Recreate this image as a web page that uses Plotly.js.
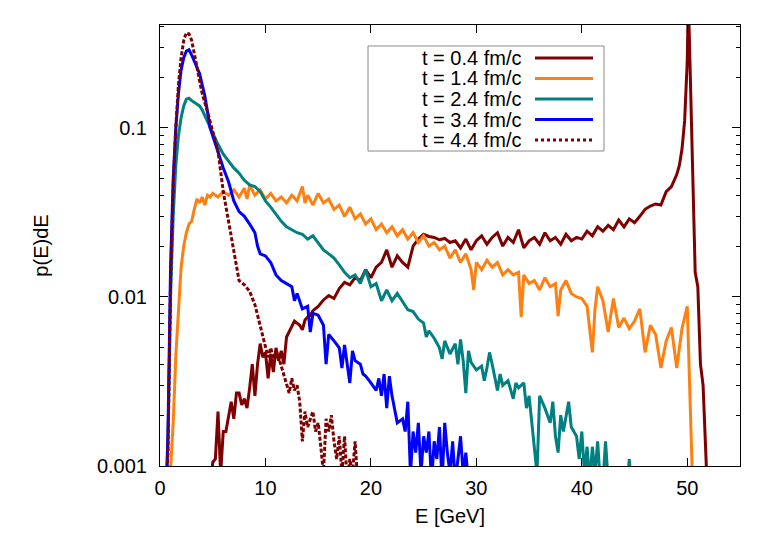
<!DOCTYPE html>
<html>
<head>
<meta charset="utf-8">
<script src="https://cdn.plot.ly/plotly-3.0.1.min.js"></script>
<style>html,body{margin:0;padding:0;background:#fff;}#chart{width:763px;height:534px;}</style>
</head>
<body>
<div id="chart"></div>
<script>
// ---- data ----
const seriesNames = ["t = 0.4 fm/c", "t = 1.4 fm/c", "t = 2.4 fm/c", "t = 3.4 fm/c", "t = 4.4 fm/c"];

const E_t04 = [4.75,5.0,5.25,5.5,5.75,6.0,6.25,6.5,6.75,7.0,7.25,7.5,7.75,8.0,8.25,8.5,8.75,9.0,9.25,9.5,9.75,10.0,10.25,10.5,10.75,11.0,11.25,11.5,11.75,12.0,12.25,12.5,12.75,13.0,13.25,13.5,13.75,14.0,14.25,14.5,15.0,15.5,16.0,16.5,17.0,17.5,18.0,18.5,19.0,19.5,20.0,20.5,21.0,21.5,22.0,22.5,23.0,23.5,24.0,24.5,25.0,25.5,26.0,26.5,27.0,27.5,28.0,28.5,29.0,29.5,30.0,30.5,31.0,31.5,32.0,32.5,33.0,33.5,34.0,34.5,35.0,35.5,36.0,36.5,37.0,37.5,38.0,38.5,39.0,39.5,40.0,40.5,41.0,41.5,42.0,42.5,43.0,43.5,44.0,44.5,45.0,45.5,46.0,46.5,47.0,47.5,48.0,48.5,49.0,49.25,49.5,49.75,50.0,50.1,50.25,50.5,50.75,51.0,51.25,51.5,51.75,52.0];
const P_t04 = [0.0007,0.00105,0.0011,0.0021,0.0009,0.0016,0.0016,0.0020,0.0024,0.0019,0.0027,0.0027,0.0023,0.0025,0.0022,0.0029,0.0040,0.0026,0.0040,0.0053,0.0044,0.0047,0.0033,0.0046,0.0036,0.0050,0.0042,0.0048,0.0040,0.0058,0.0062,0.0066,0.0072,0.0070,0.0068,0.0064,0.0073,0.0076,0.0078,0.0083,0.0088,0.0096,0.0102,0.0098,0.0112,0.0122,0.0118,0.0130,0.0125,0.0145,0.0130,0.0150,0.0160,0.0190,0.0150,0.0175,0.0160,0.0150,0.0200,0.0220,0.0235,0.0228,0.0225,0.0218,0.0222,0.0210,0.0215,0.0195,0.0220,0.0190,0.0215,0.0230,0.0205,0.0225,0.0240,0.0200,0.0225,0.0210,0.0250,0.0195,0.0215,0.0225,0.0205,0.0240,0.0215,0.0225,0.0205,0.0235,0.0215,0.0225,0.0220,0.0245,0.0230,0.0260,0.0245,0.0265,0.0250,0.0285,0.0260,0.0290,0.0275,0.0300,0.0330,0.0345,0.0355,0.0350,0.0420,0.0450,0.0530,0.060,0.075,0.11,0.25,0.60,0.25,0.050,0.0140,0.0115,0.0040,0.0030,0.0011,0.0005];

const E_t14 = [0.75,1.0,1.25,1.5,1.75,2.0,2.25,2.5,2.75,3.0,3.25,3.5,3.75,4.0,4.25,4.5,4.75,5.0,5.5,6.0,6.5,7.0,7.5,8.0,8.25,8.5,9.0,9.5,10.0,10.5,11.0,11.5,12.0,12.5,13.0,13.5,13.75,14.0,14.5,15.0,15.5,16.0,16.5,17.0,17.5,18.0,18.5,19.0,19.5,20.0,20.5,21.0,21.5,22.0,22.5,23.0,23.5,24.0,24.5,25.0,25.5,26.0,26.5,27.0,27.5,28.0,28.5,29.0,29.5,29.75,30.0,30.5,31.0,31.5,32.0,32.5,33.0,33.5,34.0,34.25,34.5,35.0,35.5,36.0,36.5,37.0,37.5,37.75,38.0,38.5,39.0,39.5,40.0,40.5,41.0,41.25,41.5,42.0,42.5,43.0,43.5,44.0,44.5,45.0,45.5,46.0,46.5,47.0,47.5,48.0,48.5,49.0,49.5,50.0,50.5];
const P_t14 = [0.0005,0.0009,0.0018,0.0045,0.009,0.015,0.020,0.024,0.027,0.028,0.033,0.038,0.036,0.039,0.035,0.040,0.039,0.041,0.039,0.042,0.040,0.043,0.039,0.044,0.038,0.046,0.040,0.043,0.038,0.041,0.037,0.039,0.036,0.040,0.037,0.045,0.036,0.040,0.035,0.041,0.036,0.038,0.033,0.035,0.030,0.034,0.029,0.031,0.027,0.029,0.025,0.027,0.024,0.026,0.023,0.025,0.022,0.024,0.021,0.023,0.020,0.021,0.019,0.020,0.017,0.019,0.016,0.018,0.0145,0.011,0.016,0.0145,0.0165,0.015,0.016,0.0135,0.0145,0.0135,0.014,0.0076,0.0135,0.012,0.0125,0.011,0.013,0.0115,0.012,0.0077,0.011,0.0125,0.0105,0.010,0.0098,0.0088,0.0047,0.0085,0.0115,0.0095,0.0062,0.0098,0.0066,0.0075,0.0065,0.0072,0.0085,0.0047,0.0068,0.0060,0.0038,0.0055,0.0066,0.0038,0.0065,0.0088,0.0008];

const E_t24 = [0.5,0.75,1.0,1.25,1.5,1.75,2.0,2.25,2.5,2.75,3.0,3.25,3.5,3.75,4.0,4.25,4.5,4.75,5.0,5.5,6.0,6.5,7.0,7.5,8.0,8.5,9.0,9.5,10.0,10.5,11.0,11.5,12.0,12.5,13.0,13.5,14.0,14.5,15.0,15.5,16.0,16.5,17.0,17.5,18.0,18.5,19.0,19.5,20.0,20.5,21.0,21.5,22.0,22.5,23.0,23.5,24.0,24.5,25.0,25.25,25.5,26.0,26.5,26.75,27.0,27.5,28.0,28.25,28.5,28.75,29.0,29.25,29.5,30.0,30.5,30.75,31.0,31.25,31.5,32.0,32.25,32.5,33.0,33.5,33.75,34.0,34.5,34.75,35.0,35.5,35.75,36.0,36.5,37.0,37.25,37.5,37.75,38.0,38.25,38.75,39.0,39.5,39.75,40.0,40.25,40.5,40.75,41.0,41.25,41.5,41.75,42.0,42.25,42.5,43.0,43.5,44.25,44.5,44.75];
const P_t24 = [0.0005,0.0013,0.010,0.030,0.060,0.090,0.115,0.135,0.148,0.150,0.145,0.142,0.138,0.135,0.128,0.118,0.108,0.102,0.092,0.080,0.070,0.064,0.058,0.054,0.049,0.046,0.045,0.042,0.037,0.034,0.031,0.028,0.026,0.025,0.024,0.0235,0.022,0.023,0.021,0.019,0.018,0.017,0.0155,0.014,0.013,0.0135,0.012,0.0145,0.0115,0.012,0.0095,0.011,0.0095,0.0105,0.0094,0.0084,0.0082,0.0074,0.0070,0.0058,0.0063,0.0057,0.0050,0.0043,0.0055,0.0046,0.0053,0.0040,0.0056,0.0042,0.0027,0.0048,0.0041,0.0037,0.0039,0.0032,0.0038,0.0047,0.0040,0.0028,0.0035,0.0030,0.0032,0.0025,0.0031,0.0029,0.0031,0.0022,0.0026,0.0013,0.0009,0.0026,0.0022,0.0018,0.0024,0.0015,0.0012,0.0020,0.0016,0.0024,0.0017,0.0015,0.0011,0.0016,0.0009,0.0013,0.0008,0.0013,0.0009,0.0014,0.0008,0.0008,0.0014,0.0008,0.0007,null,0.0007,0.0011,0.0007];

const E_t34 = [0.5,0.75,1.0,1.25,1.5,1.75,2.0,2.25,2.5,2.75,3.0,3.25,3.5,3.75,4.0,4.25,4.5,4.75,5.0,5.5,6.0,6.5,7.0,7.5,8.0,8.5,9.0,9.25,9.5,10.0,10.5,11.0,11.5,12.0,12.5,12.75,13.0,13.5,14.0,14.25,14.5,15.0,15.25,15.5,15.75,16.0,16.5,17.0,17.25,17.5,18.0,18.25,18.5,19.0,19.25,19.5,20.0,20.5,20.75,21.0,21.25,21.5,21.75,22.0,22.5,23.0,23.25,23.5,23.75,24.0,24.25,24.5,24.75,25.0,25.25,25.5,25.75,26.0,26.25,26.5,26.75,27.0,27.25,27.5,27.75,28.0,28.5,28.75,29.0,29.25];
const P_t34 = [0.0005,0.0015,0.015,0.050,0.10,0.16,0.22,0.26,0.285,0.29,0.27,0.25,0.23,0.21,0.18,0.155,0.125,0.10,0.09,0.072,0.058,0.048,0.037,0.032,0.030,0.027,0.024,0.020,0.018,0.0175,0.016,0.0135,0.0125,0.012,0.0115,0.0095,0.0105,0.0085,0.0088,0.0062,0.0080,0.0078,0.0072,0.0068,0.0040,0.0060,0.0055,0.0050,0.0038,0.0052,0.0031,0.0048,0.0042,0.0040,0.0035,0.0034,0.0031,0.0028,0.0033,0.0026,0.0035,0.0022,0.0034,0.0026,0.0018,0.0019,0.0016,0.0024,0.0009,0.0016,0.0012,0.0018,0.0009,0.0015,0.0012,0.0016,0.0008,0.0014,0.0011,0.0017,0.0008,0.0018,0.0012,0.0009,0.0014,0.0008,0.0015,0.0009,0.0012,0.0008];

const E_t44 = [0.5,0.75,1.0,1.25,1.5,1.75,2.0,2.25,2.5,2.75,3.0,3.25,3.5,3.75,4.0,4.5,5.0,5.5,6.0,6.5,7.0,7.5,8.0,8.5,9.0,9.5,10.0,10.25,10.5,10.75,11.0,11.25,11.5,12.0,12.25,12.5,12.75,13.0,13.25,13.5,13.75,14.0,14.25,14.5,14.75,15.0,15.25,15.5,15.75,16.0,16.25,16.5,16.75,17.0,17.25,17.5,17.75,18.0,18.25,18.5,18.75];
const P_t44 = [0.0005,0.0012,0.012,0.045,0.10,0.18,0.26,0.33,0.365,0.36,0.33,0.28,0.23,0.19,0.16,0.125,0.095,0.073,0.042,0.028,0.018,0.0125,0.0118,0.0108,0.0090,0.0068,0.0052,0.0044,0.0050,0.0043,0.0048,0.0044,0.0039,0.0031,0.0027,0.0033,0.0028,0.0030,0.0024,0.0014,0.0021,0.0017,0.0019,0.0021,0.0016,0.0018,0.0013,0.0009,0.0019,0.0016,0.0020,0.0014,0.0011,0.0015,0.0009,0.0015,0.0008,0.0011,0.0009,0.0014,0.0008];

const xTickVals = [0,10,20,30,40,50];
const yTickVals = [0.001,0.01,0.1];
const yTickText = ["0.001","0.01","0.1"];
const yMinorVals = [0.002,0.003,0.004,0.005,0.006,0.007,0.008,0.009,0.02,0.03,0.04,0.05,0.06,0.07,0.08,0.09,0.2,0.3,0.4];

// ---- styles ----
const colors = ["#7f0000", "#ff8012", "#008080", "#0000ff", "#7f0000"];
const dashes = ["solid", "solid", "solid", "solid", "4px,2px"];
const xs = [E_t04, E_t14, E_t24, E_t34, E_t44];
const ys = [P_t04, P_t14, P_t24, P_t34, P_t44];

const traces = xs.map((x, i) => ({
  type: "scatter", mode: "lines", x: x, y: ys[i], name: seriesNames[i],
  line: {color: colors[i], width: 3, dash: dashes[i]},
  connectgaps: false, showlegend: false, hoverinfo: "skip"
}));

// custom gnuplot-style legend (text right, sample line left)
const W = 580, H = 441, L = 160, T = 25;
const px = v => (v - L) / W;
const py = v => (T + H - v) / H;
const rowsY = [58, 78.5, 99, 119.5, 140];
const annotations = seriesNames.map((s, i) => ({
  xref: "paper", yref: "paper", x: px(523), y: py(rowsY[i]), xanchor: "right", yanchor: "middle",
  text: s, showarrow: false, font: {family: "Liberation Sans, Arial, sans-serif", size: 20, color: "#000"}
}));
const shapes = [{
  type: "rect", xref: "paper", yref: "paper", x0: px(368), x1: px(604), y0: py(151), y1: py(46),
  line: {color: "#888", width: 1}, fillcolor: "rgba(255,255,255,1)", layer: "above"
}].concat(seriesNames.map((s, i) => ({
  type: "line", xref: "paper", yref: "paper", x0: px(535), x1: px(593), y0: py(rowsY[i]), y1: py(rowsY[i]),
  line: {color: colors[i], width: 3, dash: i === 4 ? "dot" : "solid"}, layer: "above"
})));

const font = {family: "Liberation Sans, Arial, sans-serif", size: 20, color: "#000"};
const layout = {
  width: 763, height: 534,
  margin: {l: 160, r: 23, t: 25, b: 68, pad: 0},
  paper_bgcolor: "#fff", plot_bgcolor: "#fff",
  font: font,
  showlegend: false,
  xaxis: {
    range: [0, 55], tickmode: "array", tickvals: xTickVals,
    ticks: "inside", ticklen: 8, tickwidth: 1, tickcolor: "#000",
    showline: true, linecolor: "#000", linewidth: 1, mirror: "allticks",
    showgrid: false, zeroline: false, ticklabelstandoff: 4,
    tickfont: font,
    title: {text: "E [GeV]", font: font, standoff: 10}
  },
  yaxis: {
    type: "log", range: [-3, -0.391], tickmode: "array", tickvals: yTickVals, ticktext: yTickText,
    ticks: "inside", ticklen: 8, tickwidth: 1, tickcolor: "#000",
    minor: {tickmode: "array", tickvals: yMinorVals, ticks: "inside", ticklen: 4, tickwidth: 1, tickcolor: "#000", showgrid: false},
    showline: true, linecolor: "#000", linewidth: 1, mirror: "allticks",
    showgrid: false, zeroline: false, ticklabelstandoff: 8,
    tickfont: font,
    title: {text: "p(E)dE", font: font, standoff: 42}
  },
  annotations: annotations,
  shapes: shapes
};

Plotly.newPlot("chart", traces, layout, {staticPlot: true, displayModeBar: false});
</script>
</body>
</html>
